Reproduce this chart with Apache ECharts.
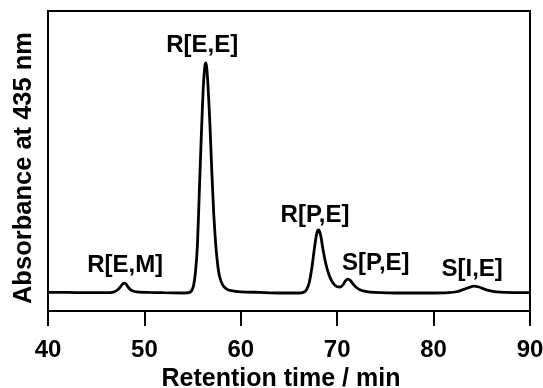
<!DOCTYPE html>
<html>
<head>
<meta charset="utf-8">
<script src="https://cdn.jsdelivr.net/npm/echarts@6/dist/echarts.min.js"></script>
<style>
  html, body { margin: 0; padding: 0; background: #fff; }
  #chart { width: 543px; height: 388px; }
</style>
</head>
<body>
<div id="chart"></div>
<script>
// retention time (min) and absorbance (arbitrary units)
const times = [40, 42, 44, 46, 46.8, 47.2, 47.5, 47.7, 47.9, 48.1, 48.3, 48.6, 49.0, 49.5, 50.5, 52, 54,
  54.6, 54.9, 55.1, 55.3, 55.5, 55.7, 55.9, 56.1, 56.25, 56.35, 56.45, 56.6, 56.8, 57.0, 57.2, 57.4,
  57.6, 57.8, 58.1, 58.5, 59, 60, 62, 64, 66, 66.5, 66.8, 67.1, 67.4, 67.6, 67.8, 67.95, 68.1, 68.3,
  68.5, 68.8, 69.1, 69.4, 69.7, 70.0, 70.3, 70.6, 70.85, 71.1, 71.35, 71.6, 71.9, 72.3, 72.8, 73.4,
  74.5, 76, 78, 80, 81.5, 82.5, 83.2, 83.7, 84.2, 84.7, 85.2, 85.8, 86.5, 87.5, 89, 90]
const absorbance = [6.2, 6.2, 6.1, 6.1, 6.3, 7.0, 8.0, 8.8, 9.3, 9.0, 8.0, 7.0, 6.5, 6.3, 6.2, 6.1, 6.0,
  6.1, 6.8, 8.5, 13, 22, 40, 58, 74, 81, 82.7, 81.5, 75, 62, 46, 32, 22,
  15.5, 11.5, 8.8, 7.4, 6.8, 6.4, 6.2, 6.0, 6.0, 6.2, 7.0, 9.5, 15, 20, 24.5, 26.7, 27, 25,
  21, 16, 12.5, 10.2, 8.8, 8.1, 8.0, 8.7, 10, 10.6, 10.2, 9.2, 8.1, 7.2, 6.6, 6.3,
  6.1, 6.0, 6.0, 6.0, 6.1, 6.5, 7.3, 7.9, 8.3, 8.0, 7.4, 6.8, 6.4, 6.2, 6.1, 6.1]

// peak annotations: name, retention time of label centre, label height
const peakNames = ['R[E,M]', 'R[E,E]', 'R[P,E]', 'S[P,E]', 'S[I,E]']
const peakLabelTimes = [48.0, 56.0, 67.7, 74.0, 84.0]
const peakLabelHeights = [15.2, 88.6, 32.0, 16.0, 13.8]

const xTicks = [40, 50, 60, 70, 80, 90]

const font = "'Liberation Sans', Arial, sans-serif"

const chart = echarts.init(document.getElementById('chart'))

chart.setOption({
  animation: false,
  grid: {
    left: 48,
    right: 13,
    top: 11,
    bottom: 77,
    containLabel: false,
    outerBoundsMode: 'none',
    show: true,
    borderColor: '#000',
    borderWidth: 2,
  },
  xAxis: {
    type: 'value',
    min: xTicks[0],
    max: xTicks[xTicks.length - 1],
    interval: 10,
    name: 'Retention time / min',
    nameLocation: 'middle',
    nameGap: 53,
    nameTextStyle: { color: '#000', fontFamily: font, fontWeight: 'bold', fontSize: 25, padding: [0, 16, 0, 0] },
    axisLine: { lineStyle: { color: '#000', width: 2 } },
    axisTick: { inside: false, length: 15, lineStyle: { color: '#000', width: 2 } },
    axisLabel: { color: '#000', fontFamily: font, fontWeight: 'bold', fontSize: 24, margin: 27 },
    splitLine: { show: false },
  },
  yAxis: {
    type: 'value',
    min: 0,
    max: 100,
    name: 'Absorbance at 435 nm',
    nameLocation: 'middle',
    nameGap: 11,
    nameTextStyle: { color: '#000', fontFamily: font, fontWeight: 'bold', fontSize: 25.5, padding: [0, 14, 0, 0] },
    axisLine: { show: true, lineStyle: { color: '#000', width: 2 } },
    axisTick: { show: false },
    axisLabel: { show: false },
    splitLine: { show: false },
  },
  series: [
    {
      type: 'line',
      data: times.map((t, i) => [t, absorbance[i]]),
      showSymbol: false,
      smooth: 0.2,
      lineStyle: { color: '#000', width: 2.8 },
      markPoint: {
        symbol: 'circle',
        symbolSize: 0,
        silent: true,
        label: {
          show: true,
          position: 'inside',
          formatter: p => p.name,
          color: '#000',
          fontFamily: font,
          fontWeight: 'bold',
          fontSize: 24,
        },
        data: peakNames.map((n, i) => ({ name: n, coord: [peakLabelTimes[i], peakLabelHeights[i]] })),
      },
    },
  ],
})
</script>
</body>
</html>
